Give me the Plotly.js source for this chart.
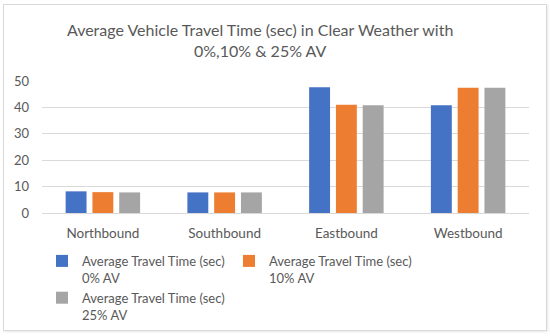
<!DOCTYPE html>
<html>
<head>
<meta charset="utf-8">
<script src="https://cdn.plot.ly/plotly-3.0.1.min.js"></script>
<style>
  html, body { margin: 0; padding: 0; background: #ffffff; }
  #wrap { position: relative; width: 550px; height: 336px; }
  #chart { width: 550px; height: 336px; }
  #frame { position: absolute; left: 3px; top: 4px; width: 542px; height: 325px;
           border: 1px solid #d9d9d9; pointer-events: none; box-shadow: 1px 1px 2px #e6e6e6; }
</style>
</head>
<body>
<div id="wrap">
  <div id="chart"></div>
  <div id="frame"></div>
</div>
<script>
const categories = ["Northbound", "Southbound", "Eastbound", "Westbound"];
const seriesNames = [
  "Average Travel Time (sec)<br>0% AV",
  "Average Travel Time (sec)<br>10% AV",
  "Average Travel Time (sec)<br>25% AV"
];
const av0 = [8.2, 7.8, 47.6, 40.8];
const av10 = [7.9, 7.8, 41.0, 47.4];
const av25 = [7.8, 7.8, 40.8, 47.4];
const colors = ["#4472c4", "#ed7d31", "#a5a5a5"];
const yTicks = [0, 10, 20, 30, 40, 50];

const FONT = "Lato, 'Open Sans', sans-serif";
const GRAY = "#595959";

const allSeries = [av0, av10, av25];
const traces = allSeries.map((vals, i) => ({
  type: "bar",
  name: seriesNames[i],
  x: categories,
  y: vals,
  marker: { color: colors[i] },
  hoverinfo: "skip"
}));

const layout = {
  width: 550,
  height: 336,
  paper_bgcolor: "rgba(0,0,0,0)",
  plot_bgcolor: "rgba(0,0,0,0)",
  margin: { l: 42, r: 21, t: 81, b: 123 },
  title: {
    text: "Average Vehicle Travel Time (sec) in Clear Weather with<br>0%,10% & 25% AV",
    font: { family: FONT, size: 16, color: GRAY },
    x: 0.473, xanchor: "center",
    y: 0.893, yanchor: "middle"
  },
  barmode: "group",
  bargap: 0.34,
  bargroupgap: 0.22,
  xaxis: {
    type: "category",
    tickfont: { family: FONT, size: 13.5, color: GRAY },
    showgrid: false,
    showline: false,
    ticks: "",
    ticklabelstandoff: 10,
    fixedrange: true
  },
  yaxis: {
    range: [0, 50],
    tickvals: yTicks,
    ticktext: yTicks.map(String),
    tickfont: { family: FONT, size: 13, color: GRAY },
    showgrid: true,
    gridcolor: "#d9d9d9",
    gridwidth: 1,
    zeroline: true,
    zerolinecolor: "#d9d9d9",
    zerolinewidth: 1,
    showline: false,
    ticks: "",
    ticklabelstandoff: 12,
    fixedrange: true
  },
  showlegend: true,
  legend: {
    orientation: "h",
    xref: "paper",
    x: 0, xanchor: "left",
    yref: "container",
    y: 0.268, yanchor: "top",
    font: { family: FONT, size: 13, color: GRAY },
    entrywidth: 142,
    entrywidthmode: "pixels",
    valign: "top",
    traceorder: "normal",
    itemclick: false,
    itemdoubleclick: false
  }
};

Plotly.newPlot("chart", traces, layout, { displayModeBar: false, staticPlot: true });
</script>
</body>
</html>
